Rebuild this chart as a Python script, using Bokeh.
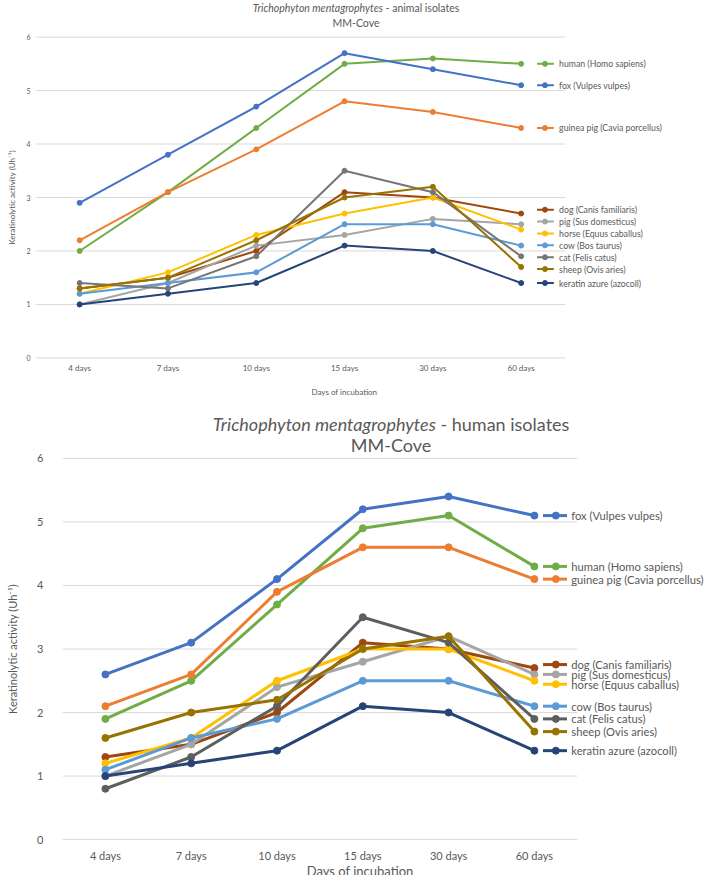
from bokeh.plotting import figure
from bokeh.models import Range1d, FixedTicker, Div, Title
from bokeh.core.properties import value
from bokeh.embed import file_html
from bokeh.resources import INLINE

# ---------------- data ----------------
days = ["4 days", "7 days", "10 days", "15 days", "30 days", "60 days"]
y_ticks = [0, 1, 2, 3, 4, 5, 6]

# animal isolates (top chart), legend order
a_names = ["human (Homo sapiens)", "fox (Vulpes vulpes)", "guinea pig (Cavia porcellus)",
           "dog (Canis familiaris)", "pig (Sus domesticus)", "horse (Equus caballus)",
           "cow (Bos taurus)", "cat (Felis catus)", "sheep (Ovis aries)", "keratin azure (azocoll)"]
a_human = [2.0, 3.1, 4.3, 5.5, 5.6, 5.5]
a_fox = [2.9, 3.8, 4.7, 5.7, 5.4, 5.1]
a_guinea = [2.2, 3.1, 3.9, 4.8, 4.6, 4.3]
a_dog = [1.3, 1.5, 2.0, 3.1, 3.0, 2.7]
a_pig = [1.0, 1.4, 2.1, 2.3, 2.6, 2.5]
a_horse = [1.2, 1.6, 2.3, 2.7, 3.0, 2.4]
a_cow = [1.2, 1.4, 1.6, 2.5, 2.5, 2.1]
a_cat = [1.4, 1.3, 1.9, 3.5, 3.1, 1.9]
a_sheep = [1.3, 1.5, 2.2, 3.0, 3.2, 1.7]
a_keratin = [1.0, 1.2, 1.4, 2.1, 2.0, 1.4]

# human isolates (bottom chart), legend order
h_names = ["fox (Vulpes vulpes)", "human (Homo sapiens)", "guinea pig (Cavia porcellus)",
           "dog (Canis familiaris)", "pig (Sus domesticus)", "horse (Equus caballus)",
           "cow (Bos taurus)", "cat (Felis catus)", "sheep (Ovis aries)", "keratin azure (azocoll)"]
h_fox = [2.6, 3.1, 4.1, 5.2, 5.4, 5.1]
h_human = [1.9, 2.5, 3.7, 4.9, 5.1, 4.3]
h_guinea = [2.1, 2.6, 3.9, 4.6, 4.6, 4.1]
h_dog = [1.3, 1.5, 2.0, 3.1, 3.0, 2.7]
h_pig = [1.0, 1.5, 2.4, 2.8, 3.2, 2.6]
h_horse = [1.2, 1.6, 2.5, 3.0, 3.0, 2.5]
h_cow = [1.1, 1.6, 1.9, 2.5, 2.5, 2.1]
h_cat = [0.8, 1.3, 2.1, 3.5, 3.1, 1.9]
h_sheep = [1.6, 2.0, 2.2, 3.0, 3.2, 1.7]
h_keratin = [1.0, 1.2, 1.4, 2.1, 2.0, 1.4]

# ---------------- styles ----------------
FONT = "Lato"
TXT = "#595959"
GRID = "#D9D9D9"
c_human, c_fox, c_guinea = "#70AD47", "#4472C4", "#ED7D31"
c_dog, c_pig, c_horse, c_cow = "#9E480E", "#A5A5A5", "#FFC000", "#5B9BD5"
c_sheep, c_keratin = "#997300", "#264478"

a_series = [a_human, a_fox, a_guinea, a_dog, a_pig, a_horse, a_cow, a_cat, a_sheep, a_keratin]
a_colors = [c_human, c_fox, c_guinea, c_dog, c_pig, c_horse, c_cow, "#767676", c_sheep, c_keratin]
h_series = [h_fox, h_human, h_guinea, h_dog, h_pig, h_horse, h_cow, h_cat, h_sheep, h_keratin]
h_colors = [c_fox, c_human, c_guinea, c_dog, c_pig, c_horse, c_cow, "#5E5E5E", c_sheep, c_keratin]


def spread(desired, gap):
    """Place labels near desired positions (descending), keeping a minimum gap."""
    groups = [[i] for i in range(len(desired))]

    def pos(g):
        c = sum(desired[i] for i in g) / len(g)
        n = len(g)
        return [c + ((n - 1) / 2 - k) * gap for k in range(n)]

    changed = True
    while changed:
        changed = False
        for j in range(len(groups) - 1):
            if pos(groups[j])[-1] - pos(groups[j + 1])[0] < gap - 1e-9:
                groups[j] = groups[j] + groups[j + 1]
                del groups[j + 1]
                changed = True
                break
    out = [0.0] * len(desired)
    for g in groups:
        for i, y in zip(g, pos(g)):
            out[i] = y
    return out


def make_chart(series, colors, names, cfg):
    xs = list(range(len(days)))
    last = xs[-1]
    x0 = xs[0] - 0.5
    p = figure(frame_width=cfg["fw"], frame_height=cfg["fh"],
               x_range=Range1d(x0, x0 + cfg["fw"] / cfg["pxu"]),
               y_range=Range1d(-0.03, 6.03),
               output_backend="svg", toolbar_location=None,
               min_border_left=cfg["bl"], min_border_right=0,
               min_border_top=cfg["bt"], min_border_bottom=0)
    p.outline_line_color = None
    p.xgrid.visible = False
    p.ygrid.visible = False

    # gridlines spanning the category area only
    p.segment(x0=[x0] * len(y_ticks), x1=[last + 0.5] * len(y_ticks),
              y0=y_ticks, y1=y_ticks, line_color=GRID, line_width=1)

    for vals, col in zip(series, colors):
        p.line(xs, vals, line_color=col, line_width=cfg["lw"])
        p.scatter(xs, vals, marker="circle", size=cfg["ms"], fill_color=col, line_color=col)

    # series labels at line ends
    ly = spread([s[-1] for s in series], cfg["gap"])
    n = len(series)
    p.segment(x0=[last + cfg["s0"]] * n, x1=[last + cfg["s1"]] * n, y0=ly, y1=ly,
              line_color=colors, line_width=cfg["lw"])
    p.scatter([last + cfg["sm"]] * n, ly, marker="circle", size=cfg["ms"],
              fill_color=colors, line_color=colors)
    p.text(x=[last + cfg["tx"]] * n, y=ly, text=names, text_font=value(FONT),
           text_font_size=cfg["lfs"], text_baseline="middle", text_align="left",
           text_color=TXT)

    # axes
    p.xaxis.ticker = FixedTicker(ticks=xs)
    p.xaxis.major_label_overrides = {i: d for i, d in zip(xs, days)}
    p.yaxis.ticker = FixedTicker(ticks=y_ticks)
    for ax in (p.xaxis, p.yaxis):
        ax.axis_line_color = None
        ax.major_tick_line_color = None
        ax.minor_tick_line_color = None
        ax.major_tick_out = 0
        ax.major_tick_in = 0
        ax.minor_tick_out = 0
        ax.minor_tick_in = 0
        ax.major_label_text_font = FONT
        ax.major_label_text_color = TXT
    p.xaxis.major_label_text_font_size = cfg["xfs"]
    p.yaxis.major_label_text_font_size = cfg["yfs"]
    p.xaxis.major_label_standoff = cfg["xstand"]
    p.yaxis.major_label_standoff = cfg["ystand"]

    p.yaxis.axis_label = "Keratinolytic activity (Uh\u207b\u00b9)"
    p.yaxis.axis_label_text_font = FONT
    p.yaxis.axis_label_text_font_style = "normal"
    p.yaxis.axis_label_text_font_size = cfg["afs"]
    p.yaxis.axis_label_text_color = TXT
    p.yaxis.axis_label_standoff = cfg["ylstand"]

    if cfg["xtitle"]:
        p.add_layout(Title(text="Days of incubation", align="left", offset=cfg["toff"],
                           text_font=FONT, text_font_size=cfg["tfs"], text_font_style="normal",
                           text_color=TXT, standoff=cfg["tstand"]), "below")
    return p


top_cfg = dict(fw=661, fh=324, pxu=88.3, bl=35, bt=5, lw=2, ms=5, gap=0.222,
               s0=0.18, s1=0.37, sm=0.27, tx=0.43, lfs="8.7px", xfs="8px", yfs="7px",
               xstand=3, ystand=5, afs="8px", ylstand=6,
               xtitle=True, toff=276, tfs="8px", tstand=19)
bot_cfg = dict(fw=642, fh=385, pxu=85.8, bl=62, bt=4, lw=3, ms=7, gap=0.155,
               s0=0.1, s1=0.38, sm=0.25, tx=0.43, lfs="11.2px", xfs="11px", yfs="11px",
               xstand=7, ystand=19, afs="11px", ylstand=15, xtitle=False)

p1 = make_chart(a_series, a_colors, a_names, top_cfg)
p2 = make_chart(h_series, h_colors, h_names, bot_cfg)

div1 = Div(text=('<div style="width:688px;box-sizing:border-box;padding-left:24px;padding-top:1px;'
                 'text-align:center;font-family:Lato;font-size:10.5px;line-height:15px;color:#595959;">'
                 '<i>Trichophyton mentagrophytes</i> - animal isolates<br>MM-Cove</div>'),
           width=688, height=30, margin=(0, 0, 0, 0))
div2 = Div(text=('<div style="width:688px;box-sizing:border-box;padding-left:94px;padding-top:8px;'
                 'text-align:center;font-family:Lato;font-size:18px;line-height:21px;color:#595959;">'
                 '<i>Trichophyton mentagrophytes</i> - human isolates<br>MM-Cove</div>'),
           width=688, height=46, margin=(0, 0, 0, 0))
div3 = Div(text=('<div style="width:688px;box-sizing:border-box;padding-left:32px;margin-top:-7px;'
                 'text-align:center;font-family:Lato;font-size:13px;line-height:10px;color:#595959;">'
                 'Days of incubation</div>'),
           width=688, height=6, margin=(0, 0, 0, 0))

open("out.html", "w").write(file_html([div1, p1, div2, p2, div3], INLINE))
